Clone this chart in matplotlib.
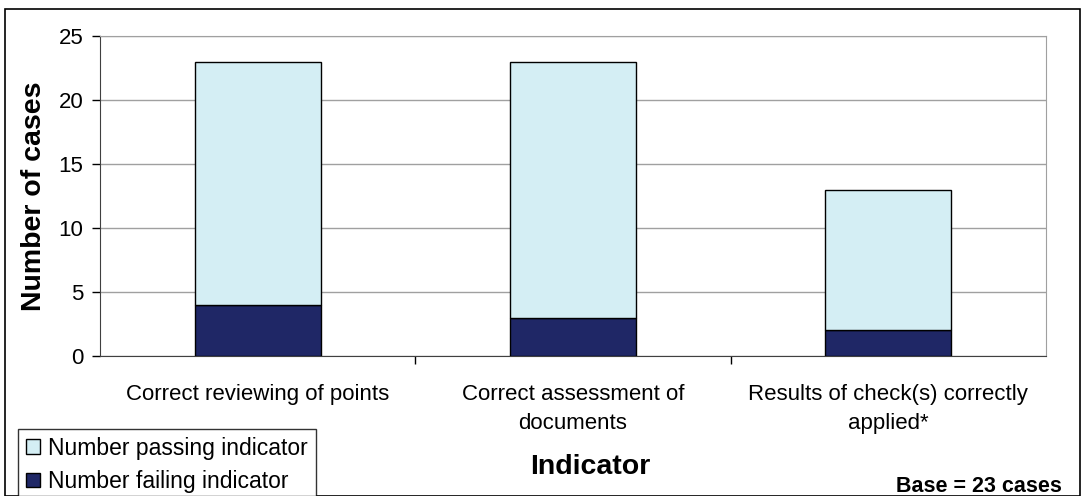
import numpy as np
import matplotlib.pyplot as plt
from matplotlib.patches import Rectangle, Patch

plt.rcParams['font.family'] = ['Liberation Sans', 'DejaVu Sans']

categories = ['Correct reviewing of points', 'Correct assessment of\ndocuments',
              'Results of check(s) correctly\napplied*']
failing = [4, 3, 2]
passing = [19, 20, 11]

pass_color = '#D4EEF4'
fail_color = '#1F2766'

fig = plt.figure(figsize=(10.83, 4.96), dpi=100)
ax = fig.add_axes([100 / 1083, 1 - 356 / 496, 946 / 1083, 320 / 496])

x = np.arange(len(categories))
ax.bar(x, failing, width=0.4, color=fail_color, edgecolor='black', linewidth=1, zorder=3)
ax.bar(x, passing, width=0.4, bottom=failing, color=pass_color, edgecolor='black',
       linewidth=1, zorder=3)

ax.set_xlim(-0.5, len(categories) - 0.5)
ax.set_ylim(0, 25)
ax.set_yticks(np.arange(0, 26, 5))
ax.yaxis.grid(True, color='#a0a0a0', linewidth=1, zorder=0)
ax.tick_params(axis='y', labelsize=16, length=6, width=1, direction='out', pad=6)

# category labels at bar centres, ticks at boundaries
ax.set_xticks(x)
ax.set_xticklabels(categories, fontsize=16, linespacing=1.5)
ax.tick_params(axis='x', which='major', length=0, pad=20)
ax.set_xticks(np.arange(0.5, len(categories) - 0.5, 1), minor=True)
ax.tick_params(axis='x', which='minor', length=6, width=1, direction='out')

for side in ['top', 'right']:
    ax.spines[side].set_color('#a0a0a0')
for side in ['left', 'bottom']:
    ax.spines[side].set_color('#404040')

ax.set_ylabel('Number of cases', fontsize=20.5, fontweight='bold', labelpad=8)
fig.text(590 / 1083, 1 - 467 / 496, 'Indicator', fontsize=20.5, fontweight='bold',
         ha='center', va='center')
fig.text(1062 / 1083, 1 - 486 / 496, 'Base = 23 cases', fontsize=15.5, fontweight='bold',
         ha='right', va='center')

handles = [Patch(facecolor=pass_color, edgecolor='black', label='Number passing indicator'),
           Patch(facecolor=fail_color, edgecolor='black', label='Number failing indicator')]
leg = fig.legend(handles=handles, loc='lower left', bbox_to_anchor=(18 / 1083, -0.01),
                 fontsize=16.5, frameon=True, fancybox=False, edgecolor='black',
                 handlelength=0.6, handleheight=0.6, handletextpad=0.35,
                 borderpad=0.35, labelspacing=0.45, borderaxespad=0)
leg.get_frame().set_linewidth(1)

fig.patches.append(Rectangle((5 / 1083, 0), 1075 / 1083, 1 - 9 / 496,
                             transform=fig.transFigure, fill=False,
                             edgecolor='black', linewidth=1.2))

fig.savefig('out.png', dpi=100)
